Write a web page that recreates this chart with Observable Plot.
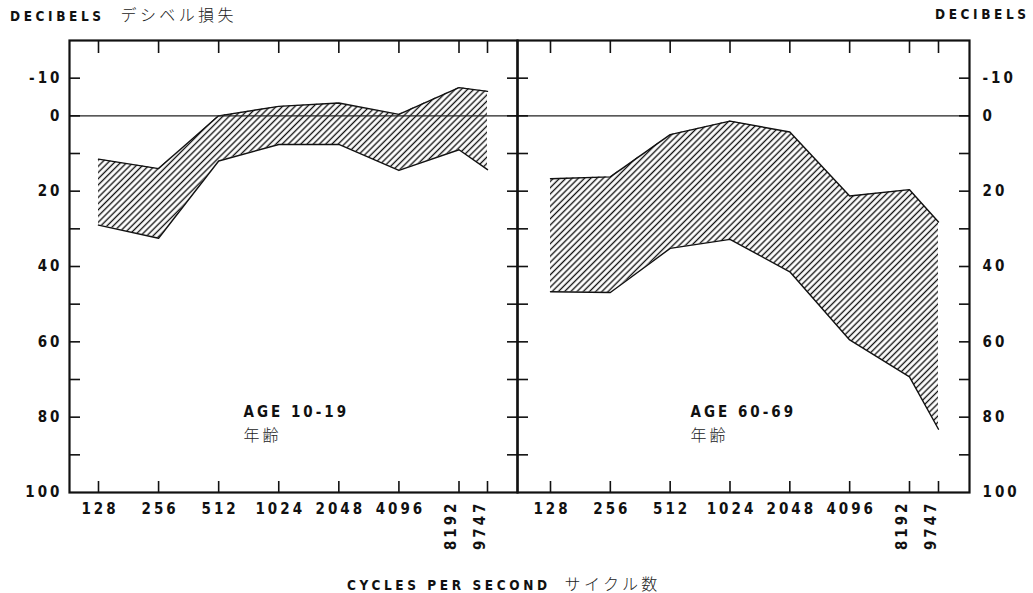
<!DOCTYPE html>
<html>
<head>
<meta charset="utf-8">
<script src="https://cdn.jsdelivr.net/npm/d3@7"></script>
<script src="https://cdn.jsdelivr.net/npm/@observablehq/plot@0.6"></script>
<style>
  html, body { margin: 0; padding: 0; background: #fff; }
  body { width: 1033px; height: 593px; position: relative; overflow: hidden; }
  #charts { position: absolute; left: 0; top: 0; display: flex; }
  #charts svg { display: block; overflow: visible; }
  .cap { position: absolute; white-space: nowrap; color: #111;
         font-family: "DejaVu Sans Condensed", "DejaVu Sans", sans-serif; font-stretch: condensed;
         font-weight: bold; font-size: 13.5px; letter-spacing: 3.6px; line-height: 18px; }
  .jp { font-family: "Noto Sans CJK JP", sans-serif; font-weight: 300; font-size: 16px; letter-spacing: 3.4px; color: #222; }
</style>
</head>
<body>
<svg width="0" height="0" style="position:absolute">
  <defs>
    <pattern id="hatch" patternUnits="userSpaceOnUse" width="4.4" height="4.4" patternTransform="rotate(45)">
      <line x1="2.2" y1="0" x2="2.2" y2="4.4" stroke="#111" stroke-width="1.35"></line>
    </pattern>
  </defs>
</svg>
<div id="charts"></div>
<div class="cap" style="left:10px; top:5px;">DECIBELS <span class="jp" style="margin-left:8px">デシベル損失</span></div>
<div class="cap" style="left:935px; top:5px;">DECIBELS</div>
<div class="cap" style="left:347px; top:574px;">CYCLES PER SECOND <span class="jp" style="margin-left:6px">サイクル数</span></div>
<script>
// ---- data ----
const freqs = [128, 256, 512, 1024, 2048, 4096, 8192, 9747];
const freqLabelsFlat = [128, 256, 512, 1024, 2048, 4096];
const freqLabelsRotated = [8192, 9747];

// Age 10-19: best (least loss) and worst (most loss) boundaries, dB
const youngBest  = [11.5, 14.0, 0.0, -2.5, -3.4, -0.4, -7.5, -6.5];
const youngWorst = [29.0, 32.5, 12.0, 7.6, 7.6, 14.5, 9.0, 14.3];
// Age 60-69
const oldBest  = [16.7, 16.2, 5.0, 1.4, 4.3, 21.3, 19.6, 28.2];
const oldWorst = [46.7, 46.9, 35.2, 32.8, 41.4, 59.5, 69.3, 83.2];

const yTicks = [-10, 0, 10, 20, 30, 40, 50, 60, 70, 80, 90];
const yLabels = [-10, 0, 20, 40, 60, 80, 100];
const ageLabels = ["AGE 10-19", "AGE 60-69"];
const ageJp = "年齢";

// ---- drawing ----
const H = 593, MT = 40, MB = 101;
const fmt = d => String(d);
const blank = () => "";

function panel({best, worst, label, side, width, marginLeft, marginRight, xRange, labelDx}) {
  const rows = freqs.map((f, i) => ({f, best: best[i], worst: worst[i]}));
  return Plot.plot({
    width, height: H,
    marginTop: MT, marginBottom: MB, marginLeft, marginRight,
    style: {fontFamily: '"DejaVu Sans Condensed", "DejaVu Sans", sans-serif', fontStretch: "condensed",
            fontSize: "15px", fontWeight: "bold", letterSpacing: "3px", color: "#111", background: "transparent"},
    x: {type: "log", domain: [128, 8192, 9747], range: xRange},
    y: {domain: [100, -20]},
    marks: [
      Plot.areaY(rows, {x: "f", y1: "best", y2: "worst", fill: "url(#hatch)"}),
      Plot.lineY(rows, {x: "f", y: "best", stroke: "#111", strokeWidth: 1.4}),
      Plot.lineY(rows, {x: "f", y: "worst", stroke: "#111", strokeWidth: 1.4}),
      Plot.ruleY([0], {stroke: "#222", strokeWidth: 1.1}),
      Plot.frame({stroke: "#111", strokeWidth: 2.2}),
      Plot.axisY(yTicks, {anchor: "left", tickSize: -11, tickFormat: blank, label: null, strokeWidth: 1.6}),
      Plot.axisY(yTicks, {anchor: "right", tickSize: -11, tickFormat: blank, label: null, strokeWidth: 1.6}),
      Plot.axisY(yLabels, {anchor: side, tickSize: 0, tickPadding: side === "left" ? 7 : 13, tickFormat: fmt, label: null}),
      Plot.axisX(freqs, {anchor: "bottom", tickSize: -11, tickFormat: blank, label: null, strokeWidth: 1.6}),
      Plot.axisX(freqs, {anchor: "top", tickSize: -12, tickFormat: blank, label: null, strokeWidth: 1.6}),
      Plot.text(freqLabelsFlat, {x: d => d, text: fmt, frameAnchor: "bottom", lineAnchor: "top", dy: 11, dx: 1.5, fill: "#111"}),
      Plot.text(freqLabelsRotated, {x: d => d, text: fmt, frameAnchor: "bottom", rotate: -90, textAnchor: "end", dy: 8, dx: -3, fill: "#111"}),
      Plot.text([label], {frameAnchor: "top-left", dx: labelDx, dy: 366, textAnchor: "start", fill: "#111"}),
      Plot.text([ageJp], {frameAnchor: "top-left", dx: labelDx, dy: 389, textAnchor: "start",
                          fontFamily: "Noto Sans CJK JP", fontWeight: 300, fontSize: 16, fill: "#222"})
    ]
  });
}

const left = panel({best: youngBest, worst: youngWorst, label: ageLabels[0], side: "left",
  width: 517, marginLeft: 69, marginRight: 0, xRange: [98, 458.5, 487], labelDx: 174});
const right = panel({best: oldBest, worst: oldWorst, label: ageLabels[1], side: "right",
  width: 516, marginLeft: 0, marginRight: 64, xRange: [33, 392, 421], labelDx: 173});

document.getElementById("charts").append(left, right);
</script>
</body>
</html>
